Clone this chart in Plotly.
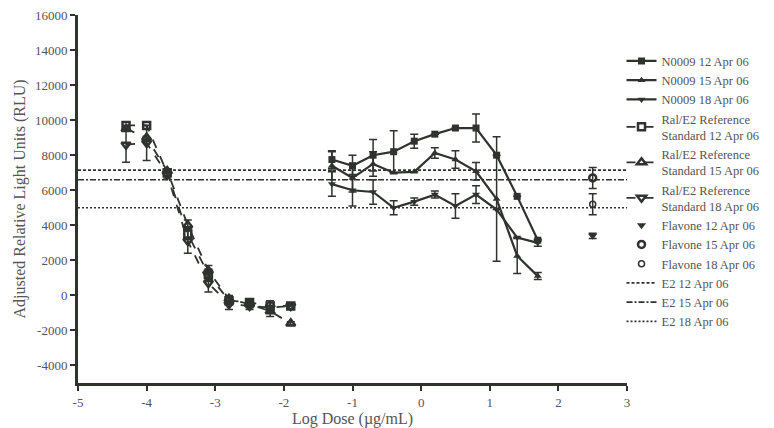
import plotly.graph_objects as go

# ---------------- data ----------------
x_n0009 = [-1.3, -1.0, -0.7, -0.4, -0.1, 0.2, 0.5, 0.8, 1.1, 1.4, 1.7]
n0009_12 = [7750, 7400, 8000, 8200, 8800, 9200, 9550, 9550, 8000, 5650, 3150]
n0009_12_err = [500, 600, 900, 1200, 400, 0, 0, 800, 0, 0, 0]
n0009_15 = [7400, 6700, 7500, 7000, 7050, 8130, 7750, 7080, 5500, 2250, 1100]
n0009_15_err = [800, 800, 700, 0, 0, 300, 500, 500, 3550, 1000, 200]
n0009_18 = [6350, 6000, 5900, 5000, 5350, 5750, 5100, 5750, 4900, 3300, 3000]
n0009_18_err = [700, 900, 700, 400, 200, 200, 700, 500, 0, 0, 200]

x_ral = [-4.3, -4.0, -3.7, -3.4, -3.1, -2.8, -2.5, -2.2, -1.9]
ral_12 = [9700, 9700, 7000, 3500, 1200, -300, -400, -600, -600]
ral_12_err = [0, 0, 0, 300, 300, 200, 200, 300, 0]
ral_15 = [9500, 9000, 7100, 4000, 1400, -200, -500, -900, -1600]
ral_15_err = [0, 0, 0, 300, 300, 200, 200, 300, 100]
ral_18 = [8600, 8700, 6900, 3100, 700, -500, -600, -700, -600]
ral_18_err = [1000, 1000, 200, 700, 500, 300, 200, 300, 0]

x_flavone = [2.5]
flavone_12 = [3400]
flavone_12_err = [150]
flavone_15 = [6700]
flavone_15_err = [600]
flavone_18 = [5200]
flavone_18_err = [600]

e2_x = [-5, 3]
e2_12 = 7150
e2_15 = 6600
e2_18 = 5000

x_ticks = [-5, -4, -3, -2, -1, 0, 1, 2, 3]
y_ticks = [-4000, -2000, 0, 2000, 4000, 6000, 8000, 10000, 12000, 14000, 16000]

# ---------------- style ----------------
INK = "#2e332e"
TXT = "#555555"
FONT = "Liberation Serif, Times New Roman, serif"

fig = go.Figure()


def add_series(x, y, err, name, symbol, dash, msize=7, mline=0, width=2.2):
    fig.add_trace(go.Scatter(
        x=x, y=y, name=name, mode="lines+markers",
        line=dict(color=INK, width=width, dash=dash),
        marker=dict(symbol=symbol, size=msize, color=INK,
                    line=dict(color=INK, width=mline)),
        error_y=dict(type="data", array=err, visible=True,
                     color=INK, thickness=1.5, width=4),
    ))


add_series(x_n0009, n0009_12, n0009_12_err, "N0009 12 Apr 06", "square", "solid")
add_series(x_n0009, n0009_15, n0009_15_err, "N0009 15 Apr 06", "triangle-up", "solid")
add_series(x_n0009, n0009_18, n0009_18_err, "N0009 18 Apr 06", "triangle-down", "solid")
add_series(x_ral, ral_12, ral_12_err, "Ral/E2 Reference<br>Standard 12 Apr 06", "square-open", "dash", 7, 2.5, 1.8)
add_series(x_ral, ral_15, ral_15_err, "Ral/E2 Reference<br>Standard 15 Apr 06", "triangle-up-open", "dash", 8, 2.5, 1.8)
add_series(x_ral, ral_18, ral_18_err, "Ral/E2 Reference<br>Standard 18 Apr 06", "triangle-down-open", "dash", 8, 2.5, 1.8)


def add_point(x, y, err, name, symbol, msize, mline):
    fig.add_trace(go.Scatter(
        x=x, y=y, name=name, mode="markers",
        marker=dict(symbol=symbol, size=msize, color=INK,
                    line=dict(color=INK, width=mline)),
        error_y=dict(type="data", array=err, visible=True,
                     color=INK, thickness=1.5, width=4),
    ))


add_point(x_flavone, flavone_12, flavone_12_err, "Flavone 12 Apr 06", "triangle-down", 8, 0)
add_point(x_flavone, flavone_15, flavone_15_err, "Flavone 15 Apr 06", "circle-open", 7, 2.5)
add_point(x_flavone, flavone_18, flavone_18_err, "Flavone 18 Apr 06", "circle-open", 6, 1.5)

for val, name, dash in [(e2_12, "E2 12 Apr 06", "3px,2px"),
                        (e2_15, "E2 15 Apr 06", "6px,2px,2px,2px"),
                        (e2_18, "E2 18 Apr 06", "2px,2px")]:
    fig.add_trace(go.Scatter(
        x=e2_x, y=[val, val], name=name, mode="lines",
        line=dict(color=INK, width=1.6, dash=dash),
    ))

fig.update_layout(
    width=766, height=420,
    margin=dict(l=70, r=147, t=7, b=45, autoexpand=False),
    paper_bgcolor="white", plot_bgcolor="white",
    font=dict(family=FONT, size=13, color=TXT),
    showlegend=True,
    legend=dict(x=0.99, y=0.915, xanchor="left", yanchor="top",
                font=dict(family=FONT, size=12.5, color=TXT),
                tracegroupgap=0, itemwidth=30, bgcolor="rgba(0,0,0,0)"),
)
fig.update_xaxes(
    range=[-5, 3], tickvals=x_ticks, ticktext=[str(v) for v in x_ticks],
    showline=True, linewidth=3, linecolor=INK, ticks="outside", automargin=False,
    ticklabeloverflow="allow",
    ticklen=5, tickwidth=2, tickcolor=INK, showgrid=False, zeroline=False,
    title=dict(text="Log Dose (µg/mL)", font=dict(family=FONT, size=16, color=TXT), standoff=4),
)
fig.update_yaxes(
    range=[-5000, 16000], tickvals=y_ticks, ticktext=[str(v) for v in y_ticks],
    showline=True, linewidth=3, linecolor=INK, ticks="outside", automargin=False,
    ticklabeloverflow="allow",
    ticklen=5, tickwidth=2, tickcolor=INK, showgrid=False, zeroline=False,
    title=dict(text="Adjusted Relative Light Units (RLU)", font=dict(family=FONT, size=16, color=TXT), standoff=6),
)

fig.write_html("out.html")
